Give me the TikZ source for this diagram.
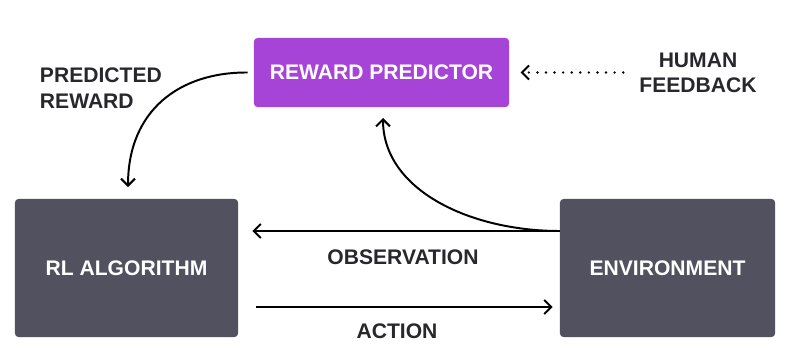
\documentclass[tikz,border=0pt]{standalone}
\usepackage{fontspec}
\setmainfont{Liberation Sans}
\usetikzlibrary{arrows.meta,positioning,calc}
\definecolor{rpPurple}{RGB}{166,68,216}
\definecolor{boxGray}{RGB}{82,81,95}
\definecolor{labelInk}{RGB}{40,40,44}

\tikzset{
  block/.style={rectangle, rounded corners=2.5pt, text=white,
    font=\fontsize{15}{17}\selectfont\bfseries, inner sep=0pt},
  lbl/.style={text=labelInk, font=\fontsize{15}{18}\selectfont\bfseries, align=left},
  flow/.style={line width=1.4pt, -{Straight Barb[length=5pt,width=10pt]}},
  dots/.style={line width=1.9pt, line cap=round, dash pattern=on 0pt off 6.1pt,
    -{Straight Barb[length=5pt,width=10pt,line width=1.4pt]}},
}

\begin{document}
\begin{tikzpicture}[x=0.025cm, y=-0.025cm]
    \useasboundingbox (0,0) rectangle (800,355);

    % the three blocks
    \node[block, fill=rpPurple, minimum width=6.375cm, minimum height=1.725cm]
      (pred) at (381.5,72.5) {REWARD PREDICTOR};
    \node[block, fill=boxGray, minimum width=5.575cm, minimum height=3.45cm]
      (rl) at (126.5,268) {RL ALGORITHM};
    \node[block, fill=boxGray, minimum width=5.375cm, minimum height=3.45cm]
      (env) at (667.5,268) {ENVIRONMENT};

    % labels
    \node[lbl, anchor=north west] (predlbl) at (35,63) {PREDICTED\\REWARD};
    \node[lbl, align=center] (human) at (698,73) {HUMAN\\FEEDBACK};
    \node[lbl] (obslbl) at (403,257) {OBSERVATION};
    \node[lbl] (actlbl) at (397,331) {ACTION};

    % human feedback into the predictor
    \draw[dots] ([xshift=-8pt]human.west |- pred.east) -- ([xshift=8pt]pred.east);

    % predicted reward down to the algorithm
    \coordinate (predout) at ($(pred.west)+(-6,0)$);
    \coordinate (rltop) at (128,187);
    \draw[flow] (predout) .. controls (180,72) and (128,110) .. (rltop);

    % observation and action
    \coordinate (obsstart) at ($(env.west)+(0,-37)$);
    \draw[flow] (obsstart) -- ([xshift=10pt]rl.east |- obsstart);
    \coordinate (actstart) at ($(rl.east)+(18,39)$);
    \draw[flow] (actstart) -- ([xshift=-5pt]env.west |- actstart);

    % observation up to the predictor
    \coordinate (predin) at (383,118);
    \draw[flow] (obsstart) .. controls (470,231) and (383,190) .. (predin);
\end{tikzpicture}
\end{document}
